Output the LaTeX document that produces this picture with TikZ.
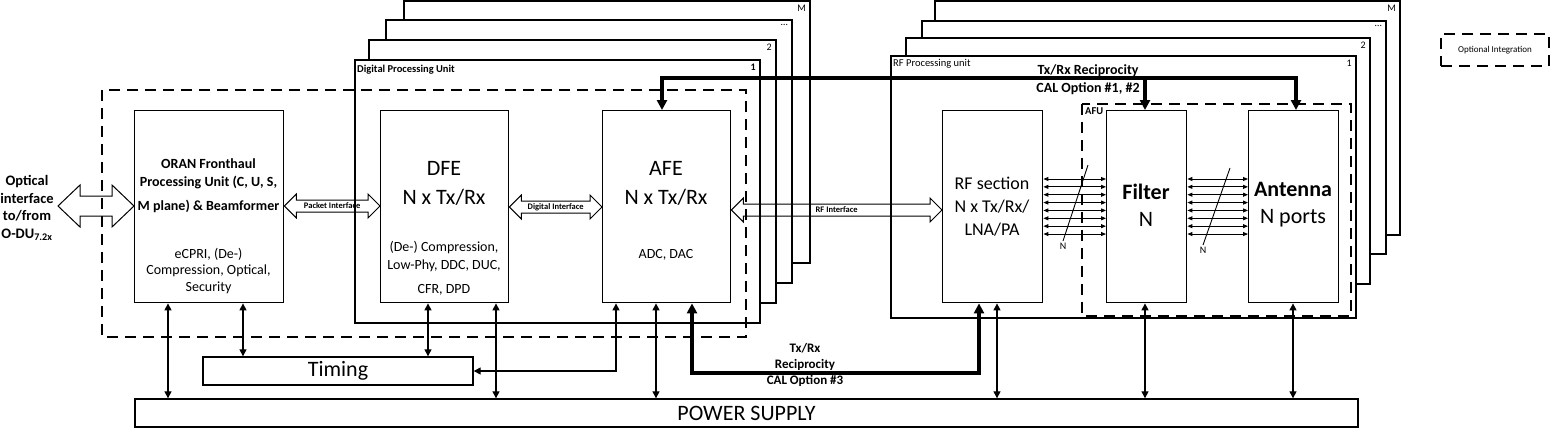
\documentclass[tikz,border=0pt]{standalone}
\usepackage{fontspec}
\setmainfont{Carlito}
\usetikzlibrary{arrows.meta,calc,positioning}

\tikzset{
  blk/.style={draw, line width=1.4pt, fill=white, inner sep=0pt, anchor=north west},
  frm/.style={draw, line width=1.2pt, fill=white},
  optbox/.style={draw, line width=1.8pt, dash pattern=on 11pt off 7pt},
  pw/.style={{Triangle[length=7pt,width=7pt]}-{Triangle[length=7pt,width=7pt]}, line width=1.3pt},
  cal/.style={line width=3.2pt, -{Triangle[length=10pt,width=10pt]}},
  calboth/.style={line width=3.2pt, {Triangle[length=10pt,width=10pt]}-{Triangle[length=10pt,width=10pt]}},
  bus/.style={{Triangle[length=5pt,width=4pt]}-{Triangle[length=5pt,width=4pt]}, line width=0.9pt},
  hollow/.style={line width=1pt, line join=miter},
  txt/.style={inner sep=0pt, align=center},
  num/.style={inner sep=0pt, anchor=north east, font=\fontsize{10}{12}\selectfont},
  iflbl/.style={inner sep=0pt, font=\bfseries\fontsize{8.5}{10}\selectfont},
}
% hollow double arrow: from, to, half shaft, half head, head length
\newcommand{\hollowarrow}[5]{%
  \draw[hollow] (#1) -- ++(#5,#4) -- ++(0,#3-#4) -- ($(#2)+(-#5,#3)$) -- ++(0,#4-#3)
    -- (#2) -- ++(-#5,-#4) -- ++(0,#4-#3) -- ($(#1)+(#5,-#3)$) -- ++(0,#3-#4) -- cycle;}

\begin{document}
\begin{tikzpicture}[x=1pt,y=-1pt,font=\fontsize{14}{16.5}\selectfont]
\useasboundingbox (0,0) rectangle (1555,429);

% digital processing unit stack
\foreach \l/\t/\r/\b/\n [count=\i] in {404/1/810/263/M, 386/20/792/283/\ldots, 369/40/776/303/2}{
  \draw[frm] (\l,\t) rectangle (\r,\b);
  \node[num] (dpuno\i) at (\r-4,\t+4) {\n};
}
\draw[frm] (355,60) rectangle (760,323);
\node[num, font=\bfseries\fontsize{10}{12}\selectfont] (dpuone) at (756,64) {1};
\node[anchor=west, inner sep=0pt, font=\bfseries\fontsize{10.5}{12}\selectfont] (dputitle) at (357,70) {Digital Processing Unit};

% rf processing unit stack
\foreach \l/\t/\r/\b/\n [count=\i] in {935/1/1400/235/M, 922/21/1386/254/\ldots, 906/38/1370/284/2}{
  \draw[frm] (\l,\t) rectangle (\r,\b);
  \node[num] (rfno\i) at (\r-4,\t+4) {\n};
}
\draw[frm] (891,56) rectangle (1356,318);
\node[num] (rfone) at (1352,60) {1};
\node[anchor=west, inner sep=0pt, font=\fontsize{10.5}{12}\selectfont] (rftitle) at (893,64) {RF Processing unit};

% blocks
\node[blk, minimum width=149pt, minimum height=192pt] (oran) at (134,110) {};
\node[blk, minimum width=128pt, minimum height=192pt] (dfe) at (380,110) {};
\node[blk, minimum width=128pt, minimum height=192pt] (afe) at (602,110) {};
\node[blk, minimum width=100pt, minimum height=192pt] (rfs) at (942,110) {};
\node[blk, minimum width=80pt, minimum height=192pt] (flt) at (1106,110) {};
\node[blk, minimum width=90pt, minimum height=192pt] (ant) at (1248,110) {};

\node[txt, font=\bfseries\fontsize{14}{18}\selectfont] (orant) at (208.5,186) {ORAN Fronthaul\\Processing Unit (C, U, S,\\[6pt]M plane) \& Beamformer};
\node[txt] (oranb) at (208.5,271) {eCPRI, (De-)\\Compression, Optical,\\Security};
\node[txt, font=\fontsize{22}{29}\selectfont] (dfet) at (444,183) {DFE\\N x Tx/Rx};
\node[txt, font=\fontsize{14}{18}\selectfont] (dfeb) at (444,268) {(De-) Compression,\\Low-Phy, DDC, DUC,\\[6pt]CFR, DPD};
\node[txt, font=\fontsize{22}{29}\selectfont] (afet) at (666,183) {AFE\\N x Tx/Rx};
\node[txt] (afeb) at (666,255) {ADC, DAC};
\node[txt, font=\fontsize{18}{23}\selectfont] (rfst) at (992,207) {RF section\\N x Tx/Rx/\\LNA/PA};
\node[txt, font=\fontsize{22}{27}\selectfont] (fltt) at (1146,205) {\textbf{Filter}\\N};
\node[txt, font=\fontsize{22}{27}\selectfont] (antt) at (1293,205) {\textbf{Antenna}\\N ports};

% optional integration
\draw[optbox] (102,90) rectangle (746,337);
\draw[optbox] (1082,104) rectangle (1351,316);
\node[anchor=north west, inner sep=0pt, font=\bfseries\fontsize{10.5}{12}\selectfont] (afu) at (1085,107) {AFU};
\node[optbox, minimum width=108pt, minimum height=32pt, font=\fontsize{9}{11}\selectfont] (legend) at (1495,50) {Optional Integration};

% interfaces
\coordinate (optL) at (58,206);
\coordinate (optR) at (oran.west |- optL);
\hollowarrow{optL}{optR}{10}{21}{22}
\node[txt, font=\bfseries\fontsize{14.5}{17.5}\selectfont] (optlbl) at (27,208) {Optical\\interface\\to/from\\O-DU\textsubscript{7.2x}};
\coordinate (pktL) at (oran.east |- 0,206);
\coordinate (pktR) at (dfe.west |- pktL);
\hollowarrow{pktL}{pktR}{6}{12}{12}
\node[iflbl] (pktlbl) at ($(pktL)!0.5!(pktR)$) {Packet Interface};
\coordinate (digL) at (dfe.east |- 0,207);
\coordinate (digR) at (afe.west |- digL);
\hollowarrow{digL}{digR}{6}{12}{12}
\node[iflbl] (diglbl) at ($(digL)!0.5!(digR)$) {Digital Interface};
\coordinate (rfiL) at (afe.east |- 0,210);
\coordinate (rfiR) at (rfs.west |- rfiL);
\hollowarrow{rfiL}{rfiR}{6}{12}{12}
\node[iflbl] (rfilbl) at ($(rfiL)!0.5!(rfiR)$) {RF Interface};

% N lanes
\foreach \k in {0,...,7}{
  \draw[bus] (rfs.east |- 0,179+\k*7.86) -- (flt.west |- 0,179+\k*7.86);
  \draw[bus] (flt.east |- 0,179+\k*7.86) -- (ant.west |- 0,179+\k*7.86);
}
\draw[line width=0.9pt] (1088,165) -- (1063,241) node[below=2pt, inner sep=0pt, font=\fontsize{10}{12}\selectfont] (nl) {N};
\draw[line width=0.9pt] (1230,168) -- (1203,245) node[below=2pt, inner sep=0pt, font=\fontsize{10}{12}\selectfont] (nr) {N};

% power and timing
\node[draw, line width=1.4pt, minimum width=1223pt, minimum height=28pt, inner sep=0pt, font=\fontsize{22}{26}\selectfont] (pwr) at (746.5,413) {POWER SUPPLY};
\node[draw, line width=1.4pt, minimum width=270pt, minimum height=28pt, inner sep=0pt, font=\fontsize{22}{26}\selectfont] (tim) at (338,371) {Timing};
\foreach \x/\a in {168/oran, 496/dfe, 656/afe, 997/rfs, 1145/flt, 1293/ant}
  \draw[pw] (\x,0 |- \a.south) -- (\x,0 |- pwr.north);
\foreach \x/\a in {243/oran, 428/dfe}
  \draw[pw] (\x,0 |- \a.south) -- (\x,0 |- tim.north);
\draw[pw] (616,0 |- afe.south) |- (tim.east);

% reciprocity calibration
\coordinate (calbr) at (1145,78);
\draw[calboth] (662,0 |- afe.north) |- (1296,78) -- (1296,0 |- ant.north);
\draw[cal] (calbr) -- (calbr |- flt.north);
\node[txt, font=\bfseries\fontsize{14}{18}\selectfont] (cal12) at (1088,80) {Tx/Rx Reciprocity\\CAL Option \#1, \#2};
\draw[calboth] (692,0 |- afe.south) |- (979,373) -- (979,0 |- rfs.south);
\node[txt, font=\bfseries\fontsize{13}{16}\selectfont] (cal3) at (805,365) {Tx/Rx\\Reciprocity\\CAL Option \#3};
\end{tikzpicture}
\end{document}
